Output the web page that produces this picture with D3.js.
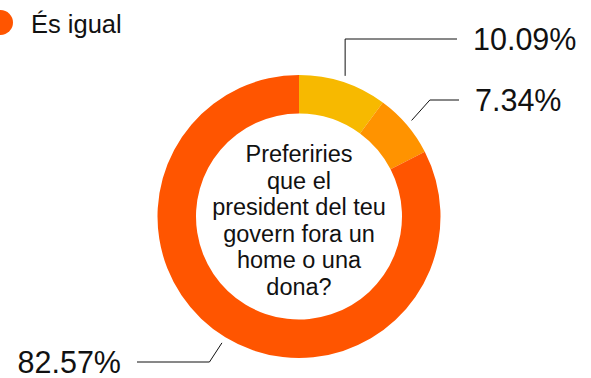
<!DOCTYPE html>
<html><head><meta charset="utf-8">
<script src="https://cdn.jsdelivr.net/npm/d3@7"></script>
<style>
html,body{margin:0;padding:0;background:#fff;overflow:hidden;}
text{font-family:"Liberation Sans",Arial,Helvetica,sans-serif;fill:#111;}
</style></head>
<body>
<svg id="chart" width="591" height="378"></svg>
<script>
// Data
const categories = ["Un home", "Una dona", "És igual"];
const values = [10.09, 7.34, 82.57];
const valueLabels = ["10.09%", "7.34%", "82.57%"];
const colors = ["#f7b900", "#ff9300", "#ff5500"];
const legendItems = ["És igual"];
const centerLines = ["Preferiries", "que el", "president del teu", "govern fora un", "home o una", "dona?"];

const svg = d3.select("#chart");
const cx = 299, cy = 216.5, rOuter = 141.5, rInner = 103;

const pie = d3.pie().sort(null).value(d => d)(values);
const arc = d3.arc().innerRadius(rInner).outerRadius(rOuter);

const g = svg.append("g").attr("transform", `translate(${cx},${cy})`);
g.selectAll("path").data(pie).join("path")
  .attr("d", arc)
  .attr("fill", (d, i) => colors[i]);

// center text
const ct = g.append("text").attr("text-anchor", "middle").style("font-size", "23.5px");
centerLines.forEach((l, i) => {
  ct.append("tspan").attr("x", 0).attr("y", -54.5 + i * 26.6).text(l);
});

// leader lines & labels
const startArc = d3.arc().innerRadius(148).outerRadius(148);
const elbowArc = d3.arc().innerRadius(172).outerRadius(172);
const labelY = [39 - cy, 100 - cy, 362 - cy];
const lineEndX = [457 - cx, 459 - cx, 137 - cx];
pie.forEach((d, i) => {
  const s = startArc.centroid(d);
  let e;
  if (i === 0) e = [s[0], labelY[i]];
  else e = [elbowArc.centroid(d)[0], labelY[i]];
  const end = [lineEndX[i], e[1]];
  g.append("path")
    .attr("d", d3.line()([s, e, end]))
    .attr("fill", "none").attr("stroke", "#111").attr("stroke-width", 1);
  const right = end[0] > 0;
  g.append("text")
    .attr("x", right ? end[0] + 16 : end[0] - 16)
    .attr("y", e[1])
    .attr("dy", "0.36em")
    .attr("text-anchor", right ? "start" : "end")
    .style("font-size", "30.5px")
    .text(valueLabels[i]);
});

// legend (partially visible)
const lg = svg.append("g");
lg.append("circle").attr("cx", 0.5).attr("cy", 22.5).attr("r", 12.5).attr("fill", colors[2]);
lg.append("text").attr("x", 31).attr("y", 33).style("font-size", "25.5px").text(legendItems[0]);
</script>
</body></html>
